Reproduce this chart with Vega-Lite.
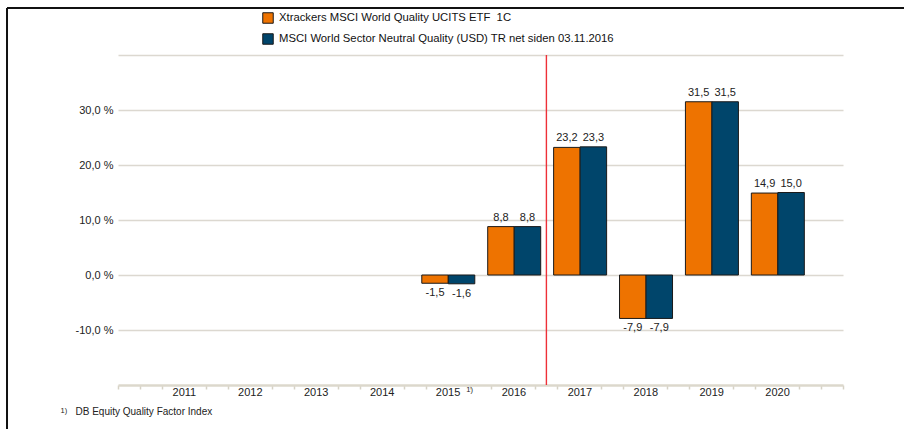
{
  "$schema": "https://vega.github.io/schema/vega-lite/v6.json",
  "width": 725,
  "height": 330,
  "autosize": "none",
  "padding": {"left": 118, "top": 55, "right": 61, "bottom": 45},
  "background": "white",
  "config": {
    "locale": {"number": {"decimal": ",", "thousands": ".", "grouping": [3], "currency": ["", " €"], "minus": "-"}},
    "view": {"stroke": null},
    "font": "Liberation Sans",
    "text": {"font": "Liberation Sans"}
  },
  "data": {
    "values": [
      {"year": 2015, "etf": -1.5, "idx": -1.6},
      {"year": 2016, "etf": 8.8, "idx": 8.8},
      {"year": 2017, "etf": 23.2, "idx": 23.3},
      {"year": 2018, "etf": -7.9, "idx": -7.9},
      {"year": 2019, "etf": 31.5, "idx": 31.5},
      {"year": 2020, "etf": 14.9, "idx": 15.0}
    ]
  },
  "encoding": {
    "x": {
      "field": "year",
      "type": "quantitative",
      "scale": {"domain": [2010, 2021], "nice": false, "zero": false, "padding": 0},
      "axis": {
        "title": "DB Equity Quality Factor Index",
        "titleAnchor": "start",
        "titleAlign": "left",
        "titleBaseline": "alphabetic",
        "titleX": -43,
        "titleY": 29,
        "titleFontSize": 10,
        "titleFontWeight": "normal",
        "titleColor": "#222",
        "titleFont": "Liberation Sans",
        "grid": false,
        "values": [2010, 2010.3333, 2010.6667, 2011, 2011.3333, 2011.6667, 2012, 2012.3333, 2012.6667, 2013, 2013.3333, 2013.6667, 2014, 2014.3333, 2014.6667, 2015, 2015.3333, 2015.6667, 2016, 2016.3333, 2016.6667, 2017, 2017.3333, 2017.6667, 2018, 2018.3333, 2018.6667, 2019, 2019.3333, 2019.6667, 2020, 2020.3333, 2020.6667, 2021],
        "labelExpr": "abs(datum.value - round(datum.value)) < 0.01 && datum.value > 2010.5 && datum.value < 2020.5 ? '' + round(datum.value) : ''",
        "labelOverlap": false,
        "labelFlush": false,
        "labelFontSize": 11,
        "labelColor": "#222",
        "labelPadding": -3,
        "labelBaseline": "top",
        "domainColor": "#dcd8cc",
        "domainWidth": 2.5,
        "tickColor": "#d6d2c6",
        "tickSize": 4,
        "tickWidth": 1.5,
        "tickOpacity": {"condition": {"test": "abs(datum.value - round(datum.value)) < 0.01 && datum.value > 2010.5 && datum.value < 2020.5", "value": 0}, "value": 1}
      }
    }
  },
  "layer": [
    {
      "mark": {"type": "bar", "width": 26.5, "xOffset": -12.5, "stroke": "#1a1a1a", "strokeWidth": 1},
      "encoding": {
        "y": {
          "field": "etf",
          "type": "quantitative",
          "title": "1)",
          "scale": {"domain": [-20, 40], "nice": false, "zero": false, "padding": 0},
          "axis": {
            "title": "1)",
            "titleAngle": 0,
            "titleAlign": "left",
            "titleBaseline": "alphabetic",
            "titleX": -58,
            "titleY": 357,
            "titleFontSize": 7.5,
            "titleFontWeight": "normal",
            "titleColor": "#222",
            "titleFont": "Liberation Sans",
            "values": [-10, 0, 10, 20, 30, 40],
            "format": ".1f",
            "labelExpr": "datum.value > 35 ? '' : datum.label + ' %'",
            "domain": false,
            "ticks": false,
            "labelPadding": 5,
            "labelFontSize": 11,
            "labelColor": "#222",
            "gridColor": "#dcd8d0",
            "gridWidth": 1.5
          }
        },
        "color": {
          "datum": "Xtrackers MSCI World Quality UCITS ETF\u00a0 1C",
          "scale": {
            "domain": ["Xtrackers MSCI World Quality UCITS ETF\u00a0 1C", "MSCI World Sector Neutral Quality (USD) TR net siden 03.11.2016"],
            "range": ["#ee7300", "#00456b"]
          },
          "legend": {
            "orient": "none",
            "legendX": 144,
            "legendY": -43,
            "title": null,
            "symbolType": "square",
            "symbolSize": 110,
            "symbolStrokeColor": "#111",
            "symbolStrokeWidth": 1,
            "symbolOpacity": 1,
            "labelFontSize": 11.3,
            "labelColor": "#111",
            "labelFont": "Liberation Sans",
            "labelLimit": 0,
            "rowPadding": 5,
            "labelOffset": 5
          }
        }
      }
    },
    {
      "mark": {"type": "bar", "width": 26.5, "xOffset": 14, "stroke": "#1a1a1a", "strokeWidth": 1},
      "encoding": {
        "y": {"field": "idx", "type": "quantitative", "title": "1)"},
        "color": {"datum": "MSCI World Sector Neutral Quality (USD) TR net siden 03.11.2016"}
      }
    },
    {
      "transform": [{"filter": "datum.etf >= 0"}],
      "mark": {"type": "text", "baseline": "bottom", "dy": -4, "dx": -12.5, "fontSize": 11, "color": "#222"},
      "encoding": {
        "y": {"field": "etf", "type": "quantitative", "title": "1)"},
        "text": {"field": "etf", "type": "quantitative", "format": ".1f"}
      }
    },
    {
      "transform": [{"filter": "datum.etf < 0"}],
      "mark": {"type": "text", "baseline": "top", "dy": 4, "dx": -12.5, "fontSize": 11, "color": "#222"},
      "encoding": {
        "y": {"field": "etf", "type": "quantitative", "title": "1)"},
        "text": {"field": "etf", "type": "quantitative", "format": ".1f"}
      }
    },
    {
      "transform": [{"filter": "datum.idx >= 0"}],
      "mark": {"type": "text", "baseline": "bottom", "dy": -4, "dx": 14, "fontSize": 11, "color": "#222"},
      "encoding": {
        "y": {"field": "idx", "type": "quantitative", "title": "1)"},
        "text": {"field": "idx", "type": "quantitative", "format": ".1f"}
      }
    },
    {
      "transform": [{"filter": "datum.idx < 0"}],
      "mark": {"type": "text", "baseline": "top", "dy": 4, "dx": 14, "fontSize": 11, "color": "#222"},
      "encoding": {
        "y": {"field": "idx", "type": "quantitative", "title": "1)"},
        "text": {"field": "idx", "type": "quantitative", "format": ".1f"}
      }
    },
    {
      "data": {"values": [{"date": 2016.5}]},
      "mark": {"type": "rule", "stroke": "#ee3038", "color": "#ee3038", "strokeWidth": 1.4},
      "encoding": {"x": {"field": "date", "type": "quantitative"}}
    },
    {
      "data": {"values": [{"year": 2015, "base": -20, "note": "1)"}]},
      "mark": {"type": "text", "baseline": "top", "align": "center", "dx": 22, "dy": 1, "fontSize": 7.5, "color": "#222"},
      "encoding": {
        "x": {"field": "year", "type": "quantitative"},
        "y": {"field": "base", "type": "quantitative", "title": "1)"},
        "text": {"field": "note"}
      }
    },
    {
      "data": {"values": [{"x1": 2008.316, "x2": 2021.95, "y1": 48.55}]},
      "mark": {"type": "rule", "color": "#111", "strokeWidth": 2, "clip": false},
      "encoding": {
        "x": {"field": "x1", "type": "quantitative"},
        "x2": {"field": "x2"},
        "y": {"field": "y1", "type": "quantitative", "title": "1)"}
      }
    },
    {
      "data": {"values": [{"x1": 2008.316, "y1": 48.55, "y2": -28}]},
      "mark": {"type": "rule", "color": "#111", "strokeWidth": 2, "clip": false},
      "encoding": {
        "x": {"field": "x1", "type": "quantitative"},
        "y": {"field": "y1", "type": "quantitative", "title": "1)"},
        "y2": {"field": "y2"}
      }
    }
  ]
}
